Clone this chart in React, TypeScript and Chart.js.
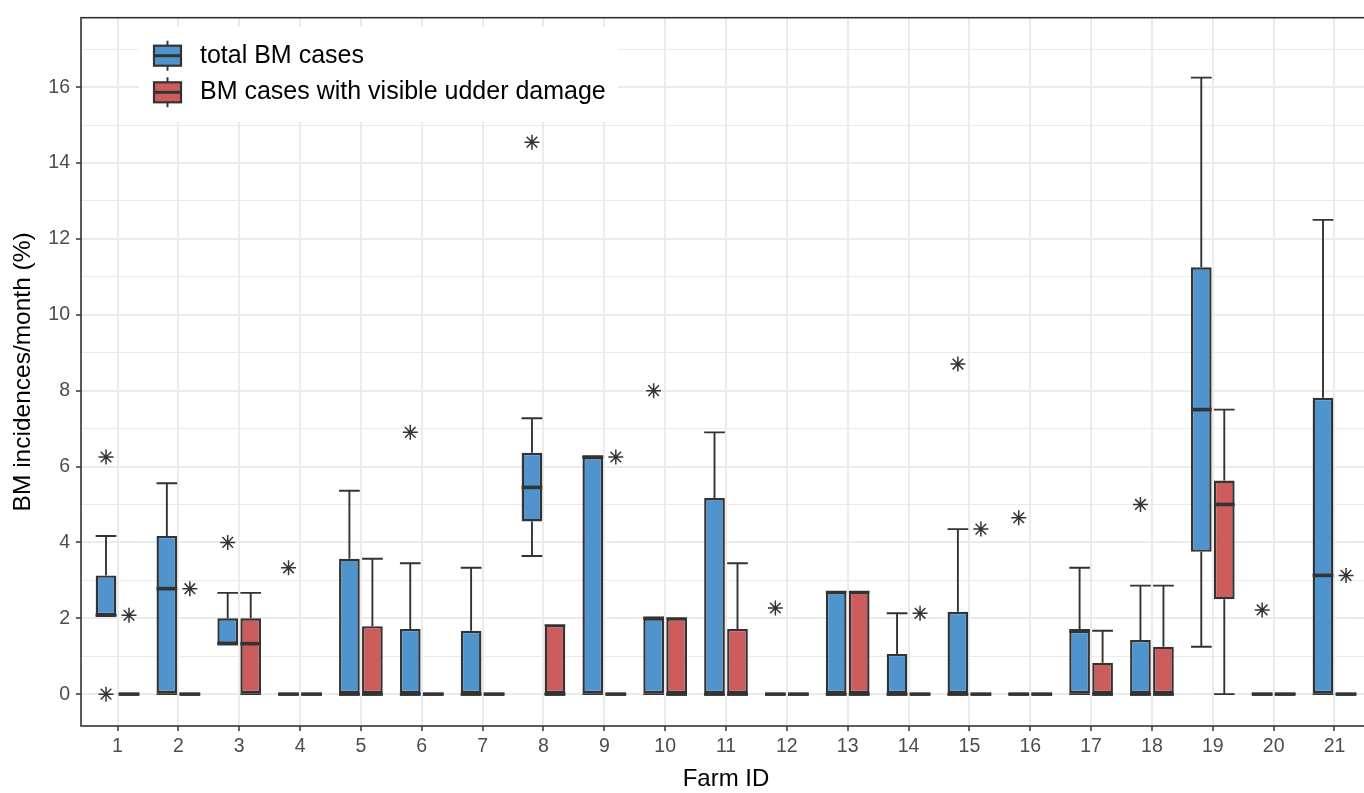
import React, { useEffect, useRef } from "react";
import { Chart, registerables } from "chart.js";

Chart.register(...registerables);

// ---------- data ----------
const farmIds = [1, 2, 3, 4, 5, 6, 7, 8, 9, 10, 11, 12, 13, 14, 15, 16, 17, 18, 19, 20, 21];

// total BM cases (box statistics per farm)
const totalLow = [2.08, 0, 1.33, 0, 0, 0, 0, 3.64, 0, 0, 0, 0, 0, 0, 0, 0, 0, 0, 1.25, 0, 0];
const totalQ1 = [2.08, 0, 1.33, 0, 0, 0, 0, 4.55, 0, 0, 0, 0, 0, 0, 0, 0, 0, 0, 3.75, 0, 0];
const totalMed = [2.08, 2.78, 1.33, 0, 0, 0, 0, 5.45, 6.25, 2.0, 0, 0, 0, 0, 0, 0, 1.67, 0, 7.5, 0, 3.13];
const totalQ3 = [3.13, 4.17, 2.0, 0, 3.57, 1.72, 1.67, 6.36, 6.25, 2.0, 5.17, 0, 2.7, 1.06, 2.17, 0, 1.67, 1.43, 11.25, 0, 7.81];
const totalHigh = [4.17, 5.56, 2.67, 0, 5.36, 3.45, 3.33, 7.27, 6.25, 2.0, 6.9, 0, 2.7, 2.13, 4.35, 0, 3.33, 2.86, 16.25, 0, 12.5];
const totalOutliers = [[0, 6.25], [], [4.0], [3.33], [], [6.9], [], [14.55], [], [8.0], [], [2.27], [], [], [8.7], [4.65], [], [5.0], [], [2.22], []];

// BM cases with visible udder damage
const udderLow = [0, 0, 0, 0, 0, 0, 0, 0, 0, 0, 0, 0, 0, 0, 0, 0, 0, 0, 0, 0, 0];
const udderQ1 = [0, 0, 0, 0, 0, 0, 0, 0, 0, 0, 0, 0, 0, 0, 0, 0, 0, 0, 2.5, 0, 0];
const udderMed = [0, 0, 1.33, 0, 0, 0, 0, 0, 0, 0, 0, 0, 0, 0, 0, 0, 0, 0, 5.0, 0, 0];
const udderQ3 = [0, 0, 2.0, 0, 1.79, 0, 0, 1.82, 0, 2.0, 1.72, 0, 2.7, 0, 0, 0, 0.83, 1.25, 5.63, 0, 0];
const udderHigh = [0, 0, 2.67, 0, 3.57, 0, 0, 1.82, 0, 2.0, 3.45, 0, 2.7, 0, 0, 0, 1.67, 2.86, 7.5, 0, 0];
const udderOutliers = [[2.08], [2.78], [], [], [], [], [], [], [6.25], [], [], [], [], [2.13], [4.35], [], [], [], [], [], [3.13]];

const yMajorTicks = [0, 2, 4, 6, 8, 10, 12, 14, 16];
const yMinorTicks = [1, 3, 5, 7, 9, 11, 13, 15, 17];

const seriesNames = ["total BM cases", "BM cases with visible udder damage"];
const seriesColors = ["#4F94CD", "#CD5C5C"];
const xTitle = "Farm ID";
const yTitle = "BM incidences/month (%)";

// ---------- styling ----------
const FONT = "'Liberation Sans', Arial, Helvetica, sans-serif";
const INK = "#333333";
const GRID = "#EBEBEB";
const CANVAS_W = 1400;
const CANVAS_H = 793;

const groups = [
  { low: totalLow, q1: totalQ1, med: totalMed, q3: totalQ3, high: totalHigh, out: totalOutliers },
  { low: udderLow, q1: udderQ1, med: udderMed, q3: udderQ3, high: udderHigh, out: udderOutliers },
];

function drawStar(ctx: CanvasRenderingContext2D, x: number, y: number, r: number) {
  const d = r / Math.SQRT2;
  ctx.beginPath();
  ctx.moveTo(x - r, y);
  ctx.lineTo(x + r, y);
  ctx.moveTo(x, y - r);
  ctx.lineTo(x, y + r);
  ctx.moveTo(x - d, y - d);
  ctx.lineTo(x + d, y + d);
  ctx.moveTo(x - d, y + d);
  ctx.lineTo(x + d, y - d);
  ctx.stroke();
}

const boxPlugin = {
  id: "boxExtras",
  beforeDatasetsDraw(chart: any) {
    const ctx = chart.ctx;
    const ys = chart.scales.y;
    ctx.save();
    ctx.strokeStyle = INK;
    ctx.lineWidth = 1.9;
    ctx.lineCap = "butt";
    groups.forEach((g, di) => {
      const meta = chart.getDatasetMeta(di);
      meta.data.forEach((bar: any, i: number) => {
        const { x, width } = bar.getProps(["x", "width"], true);
        const h = width / 2;
        const yHi = ys.getPixelForValue(g.high[i]);
        const yLo = ys.getPixelForValue(g.low[i]);
        const yQ1 = ys.getPixelForValue(g.q1[i]);
        const yQ3 = ys.getPixelForValue(g.q3[i]);
        ctx.beginPath();
        ctx.moveTo(x, yQ3);
        ctx.lineTo(x, yHi);
        ctx.moveTo(x, yQ1);
        ctx.lineTo(x, yLo);
        ctx.moveTo(x - h, yHi);
        ctx.lineTo(x + h, yHi);
        ctx.moveTo(x - h, yLo);
        ctx.lineTo(x + h, yLo);
        ctx.stroke();
      });
    });
    ctx.restore();
  },
  afterDatasetsDraw(chart: any) {
    const ctx = chart.ctx;
    const ys = chart.scales.y;
    ctx.save();
    ctx.strokeStyle = INK;
    groups.forEach((g, di) => {
      const meta = chart.getDatasetMeta(di);
      meta.data.forEach((bar: any, i: number) => {
        const { x, width } = bar.getProps(["x", "width"], true);
        const h = width / 2;
        const yMed = ys.getPixelForValue(g.med[i]);
        ctx.lineWidth = 3.6;
        ctx.beginPath();
        ctx.moveTo(x - h, yMed);
        ctx.lineTo(x + h, yMed);
        ctx.stroke();
        ctx.lineWidth = 1.5;
        g.out[i].forEach((v: number) => drawStar(ctx, x, ys.getPixelForValue(v), 7.5));
      });
    });
    ctx.restore();
  },
  afterDraw(chart: any) {
    const ctx = chart.ctx;
    const a = chart.chartArea;
    ctx.save();
    // legend (inside panel, top-left)
    ctx.fillStyle = "#FFFFFF";
    ctx.fillRect(139, 27, 479, 95);
    seriesNames.forEach((name, k) => {
      const cy = 55.7 + k * 36.6;
      const kx = 154;
      const kw = 27;
      const cx = kx + kw / 2;
      ctx.strokeStyle = INK;
      ctx.lineWidth = 1.9;
      ctx.beginPath();
      ctx.moveTo(cx, cy - 15);
      ctx.lineTo(cx, cy - 10);
      ctx.moveTo(cx, cy + 10);
      ctx.lineTo(cx, cy + 15);
      ctx.stroke();
      ctx.fillStyle = seriesColors[k];
      ctx.fillRect(kx, cy - 10, kw, 20);
      ctx.lineWidth = 2.2;
      ctx.strokeRect(kx, cy - 10, kw, 20);
      ctx.lineWidth = 3;
      ctx.beginPath();
      ctx.moveTo(kx, cy);
      ctx.lineTo(kx + kw, cy);
      ctx.stroke();
      ctx.fillStyle = "#000000";
      ctx.font = `25px ${FONT}`;
      ctx.textBaseline = "middle";
      ctx.textAlign = "left";
      ctx.fillText(name, 200, cy);
    });
    // panel border
    ctx.strokeStyle = INK;
    ctx.lineWidth = 1.6;
    ctx.strokeRect(a.left, a.top, a.right - a.left, a.bottom - a.top);
    ctx.restore();
  },
};

export default function App() {
  const ref = useRef<HTMLCanvasElement | null>(null);

  useEffect(() => {
    if (!ref.current) return;
    const datasets = groups.map((g, di) => ({
      label: seriesNames[di],
      data: farmIds.map((f, i) => ({ x: f, y: [g.q1[i], g.q3[i]] })),
      backgroundColor: seriesColors[di],
      borderColor: INK,
      borderWidth: 2.4,
      borderSkipped: false,
      categoryPercentage: 0.756,
      barPercentage: 0.9,
    }));

    const chart = new Chart(ref.current, {
      type: "bar",
      data: { datasets: datasets as any },
      plugins: [boxPlugin],
      options: {
        responsive: false,
        animation: false,
        events: [],
        layout: { padding: { top: 13, right: CANVAS_W - 1371, left: 0, bottom: 0 } },
        plugins: { legend: { display: false }, tooltip: { enabled: false } },
        scales: {
          x: {
            type: "linear",
            offset: false,
            min: 0.4,
            max: 21.6,
            afterBuildTicks: (s: any) => {
              s.ticks = farmIds.map((v) => ({ value: v }));
            },
            afterFit: (s: any) => {
              s.height = CANVAS_H - 726;
            },
            ticks: {
              autoSkip: false,
              maxRotation: 0,
              color: "#4D4D4D",
              font: { family: FONT, size: 19.5 },
              padding: 4,
              callback: (v: any) => String(v),
            },
            grid: {
              offset: false,
              color: GRID,
              lineWidth: 2,
              tickColor: INK,
              tickLength: 5,
              tickWidth: 1.5,
            },
            border: { display: false },
            title: {
              display: true,
              text: xTitle,
              color: "#000000",
              font: { family: FONT, size: 24 },
              padding: { top: 0, bottom: -1 },
            },
          },
          y: {
            type: "linear",
            min: -0.84,
            max: 17.83,
            afterBuildTicks: (s: any) => {
              s.ticks = [...yMajorTicks, ...yMinorTicks].sort((a, b) => a - b).map((v) => ({ value: v }));
            },
            afterFit: (s: any) => {
              s.width = 81;
            },
            ticks: {
              autoSkip: false,
              color: "#4D4D4D",
              font: { family: FONT, size: 19.5 },
              padding: 6,
              callback: (v: any) => (yMajorTicks.includes(v) ? String(v) : ""),
            },
            grid: {
              color: GRID,
              lineWidth: (c: any) => (yMajorTicks.includes(c.tick?.value) ? 2 : 1.1),
              tickColor: (c: any) => (yMajorTicks.includes(c.tick?.value) ? INK : "rgba(0,0,0,0)"),
              tickLength: 5,
              tickWidth: 1.5,
            },
            border: { display: false },
            title: {
              display: true,
              text: yTitle,
              color: "#000000",
              font: { family: FONT, size: 24.5 },
              padding: { top: 9, bottom: 0 },
            },
          },
        },
      } as any,
    });
    return () => chart.destroy();
  }, []);

  return (
    <div
      style={{
        position: "fixed",
        left: 0,
        top: 0,
        width: 1364,
        height: CANVAS_H,
        overflow: "hidden",
        background: "#FFFFFF",
      }}
    >
      <canvas ref={ref} width={CANVAS_W} height={CANVAS_H} style={{ display: "block" }} />
    </div>
  );
}
